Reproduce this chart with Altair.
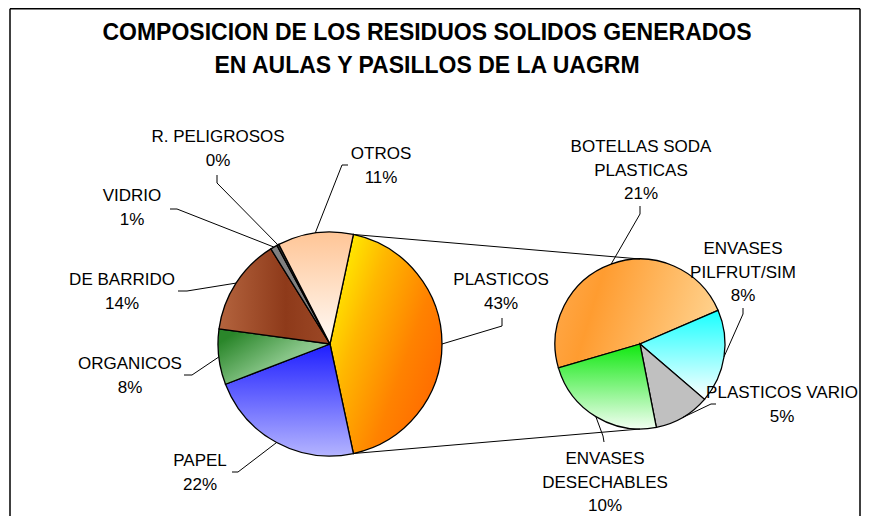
import math
import altair as alt
import pandas as pd

# ---------------- data ----------------
main_cats = ["PLASTICOS", "PAPEL", "ORGANICOS", "DE BARRIDO", "VIDRIO", "R. PELIGROSOS", "OTROS"]
main_vals = [43.3, 22.5, 8.0, 14.0, 1.0, 0.3, 10.9]

sub_cats = ["BOTELLAS SODA PLASTICAS", "ENVASES PILFRUT/SIM", "PLASTICOS VARIO", "ENVASES DESECHABLES"]
sub_vals = [20.8, 7.7, 4.6, 10.2]

label_lines = {
    "BOTELLAS SODA PLASTICAS": ["BOTELLAS SODA", "PLASTICAS"],
    "ENVASES PILFRUT/SIM": ["ENVASES", "PILFRUT/SIM"],
    "ENVASES DESECHABLES": ["ENVASES", "DESECHABLES"],
}

title_lines = ["COMPOSICION DE LOS RESIDUOS SOLIDOS GENERADOS", "EN AULAS Y PASILLOS DE LA UAGRM"]

# ---------------- layout (page pixels) ----------------
OFF = 8
W, H = 853, 508
LINE = 23.5
FONT = "Liberation Sans"

L_CX, L_CY, L_R = 330, 344, 112
R_CX, R_CY, R_R = 640, 344, 85
SUB_START_DEG = 253.7

# label text position (center x, first-line y) and leader anchor/elbow
label_layout = {
    "PLASTICOS": (501, 280, [(502, 318), (502, 326)]),
    "PAPEL": (200, 461, [(232, 472), (238, 472)]),
    "ORGANICOS": (130, 364, [(184, 375), (192, 375)]),
    "DE BARRIDO": (122, 280, [(178, 291), (187, 291)]),
    "VIDRIO": (132, 196, [(170, 209), (177, 209)]),
    "R. PELIGROSOS": (218, 137, [(217, 175), (217, 183)]),
    "OTROS": (381, 154, [(348, 165), (342, 165)]),
    "BOTELLAS SODA PLASTICAS": (641, 147, [(640, 206), (640, 214)]),
    "ENVASES PILFRUT/SIM": (743, 249, [(743, 308), (743, 314)]),
    "PLASTICOS VARIO": (782, 393, [(716, 404), (711, 404)]),
    "ENVASES DESECHABLES": (605, 459, [(604, 442), (603, 436)]),
}


def lg(stops, x1=0, y1=0, x2=0, y2=1):
    return alt.LinearGradient(
        gradient="linear",
        stops=[alt.GradientStop(color=c, offset=o) for o, c in stops],
        x1=x1, y1=y1, x2=x2, y2=y2,
    )


fills = {
    "PLASTICOS": lg([(0, "#FFF500"), (0.3, "#FFB800"), (0.65, "#FF8200"), (1, "#FF6400")], 0, 0.15, 1, 0.85),
    "PAPEL": lg([(0, "#1E1EFF"), (1, "#B4B4FF")]),
    "ORGANICOS": lg([(0, "#2A862A"), (0.55, "#86C486"), (1, "#B0DCB0")], 0.05, 0.2, 0.95, 0.9),
    "DE BARRIDO": lg([(0, "#B4643E"), (0.6, "#8E3A1A"), (1, "#9C4826")], 0, 0.5, 1, 0.5),
    "VIDRIO": "#808080",
    "R. PELIGROSOS": "#404040",
    "OTROS": lg([(0, "#FFC596"), (1, "#FFFBF7")]),
    "BOTELLAS SODA PLASTICAS": lg([(0, "#FFA848"), (0.25, "#FF9C30"), (1, "#FFD28E")], 0, 0.3, 1, 0.5),
    "ENVASES PILFRUT/SIM": lg([(0, "#18FFFF"), (1, "#FFFFFF")]),
    "PLASTICOS VARIO": "#C0C0C0",
    "ENVASES DESECHABLES": lg([(0, "#10E810"), (1, "#F2FFF2")]),
}

# ---------------- build tables ----------------
total = sum(main_vals)
sub_total = sum(sub_vals)

rows = []
start = math.pi / 2 - math.pi * main_vals[0] / total
acc = start
for n, v in zip(main_cats, main_vals):
    a0 = acc
    a1 = acc + 2 * math.pi * v / total
    acc = a1
    rows.append(dict(name=n, pie="main", a0=a0, a1=a1, v=v))
acc = math.radians(SUB_START_DEG)
for n, v in zip(sub_cats, sub_vals):
    a0 = acc
    a1 = acc + 2 * math.pi * v / sub_total
    acc = a1
    rows.append(dict(name=n, pie="sub", a0=a0, a1=a1, v=v))
slices = pd.DataFrame(rows)


def pt(cx, cy, r, a):
    return cx + r * math.sin(a) - OFF, cy - r * math.cos(a) - OFF


text_rows = []
lead_rows = []
for r in rows:
    n = r["name"]
    tx, ty, pts = label_layout[n]
    lines = label_lines.get(n, [n]) + [f"{round(r['v'] / total * 100)}%"]
    for i, t in enumerate(lines):
        text_rows.append(dict(x=tx - OFF, y=ty + i * LINE - OFF, text=t))
    mid = (r["a0"] + r["a1"]) / 2
    if r["pie"] == "main":
        ex, ey = pt(L_CX, L_CY, L_R, mid)
    else:
        ex, ey = pt(R_CX, R_CY, R_R, mid)
    k = 0
    for (px, py) in pts:
        lead_rows.append(dict(id=n, k=k, x=px - OFF, y=py - OFF))
        k += 1
    lead_rows.append(dict(id=n, k=k, x=ex, y=ey))

# connectors between the two pies (edges of PLASTICOS slice)
pl = rows[0]
x0, y0 = pt(L_CX, L_CY, L_R, pl["a0"])
x1, y1 = pt(R_CX, R_CY, R_R, 0.0)
lead_rows += [dict(id="c_top", k=0, x=x0, y=y0), dict(id="c_top", k=1, x=x1, y=y1)]
x0, y0 = pt(L_CX, L_CY, L_R, pl["a1"])
x1, y1 = pt(R_CX, R_CY, R_R, math.pi)
lead_rows += [dict(id="c_bot", k=0, x=x0, y=y0), dict(id="c_bot", k=1, x=x1, y=y1)]

texts = pd.DataFrame(text_rows)
leads = pd.DataFrame(lead_rows)
titles = pd.DataFrame(dict(text=title_lines, x=[427 - OFF] * 2, y=[33 - OFF, 66 - OFF]))
TOP = 0.75
border = pd.DataFrame(dict(x=[10 - OFF, 10 - OFF, 860 - OFF], y=[TOP, TOP, TOP],
                           x2=[10 - OFF, 860 - OFF, 860 - OFF], y2=[H + 20, TOP, H + 20]))

X = lambda f: alt.X(f, scale=None, axis=None)
Y = lambda f: alt.Y(f, scale=None, axis=None)

layers = []
for r in rows:
    n = r["name"]
    if r["pie"] == "main":
        cx, cy, R = L_CX - OFF, L_CY - OFF, L_R
    else:
        cx, cy, R = R_CX - OFF, R_CY - OFF, R_R
    layers.append(
        alt.Chart(slices)
        .transform_filter(alt.datum.name == n)
        .mark_arc(fill=fills[n], stroke="black", strokeWidth=1.3, outerRadius=R)
        .encode(theta=alt.Theta("a0:Q", scale=None), theta2="a1:Q", x=alt.value(cx), y=alt.value(cy))
    )

layers.append(
    alt.Chart(leads).mark_line(color="black", strokeWidth=1)
    .encode(x=X("x:Q"), y=Y("y:Q"), detail="id:N", order="k:Q")
)
layers.append(
    alt.Chart(border).mark_rule(color="black", strokeWidth=1.5)
    .encode(x=X("x:Q"), y=Y("y:Q"), x2="x2:Q", y2="y2:Q")
)
layers.append(
    alt.Chart(texts).mark_text(font=FONT, fontSize=17, color="black", align="center", baseline="middle")
    .encode(x=X("x:Q"), y=Y("y:Q"), text="text:N")
)
layers.append(
    alt.Chart(titles).mark_text(font=FONT, fontSize=23, fontWeight="bold", color="black", align="center", baseline="middle")
    .encode(x=X("x:Q"), y=Y("y:Q"), text="text:N")
)

chart = (
    alt.layer(*layers)
    .properties(width=W, height=H, padding=0, autosize=alt.AutoSizeParams(type="none"), background="white")
    .configure_view(stroke=None)
)

chart.save("out.html", embed_options={"renderer": "svg", "actions": False})
